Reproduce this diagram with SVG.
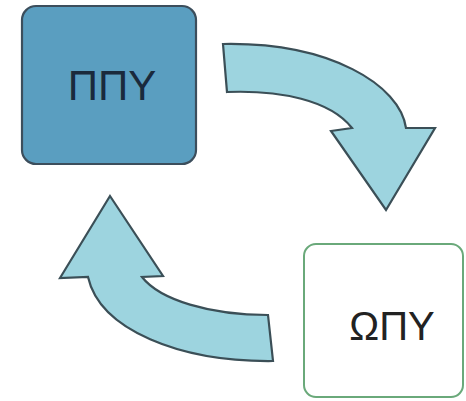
<svg xmlns="http://www.w3.org/2000/svg" width="466" height="401" viewBox="0 0 466 401">
<style>
.arrow{fill:#9dd4df;stroke:#3b4f57;stroke-width:2.2;stroke-linejoin:miter}
.lbl{font-family:"Liberation Sans",Arial,sans-serif;text-anchor:middle}
</style>
<rect width="466" height="401" fill="#ffffff"/>
<g id="connectors">
<path class="arrow" d="M223,44 C330,42 400,85 406,128 L435,128 L386,210 L331,131 L352,128 C330,100 280,90 227,92 Z"/>
<path class="arrow" d="M110,196 L163,276 L142,277 C160,300 210,315 268,315 L273,361 C180,362 100,330 88,277 L60,278 Z"/>
</g>
<g id="node-ppy">
<rect x="22" y="6" width="174" height="158" rx="14" fill="#5a9ec0" stroke="#3c4e5c" stroke-width="2.2"/>
<text class="lbl" x="112" y="100" font-size="42" fill="#1a2a3c">ΠΠΥ</text>
</g>
<g id="node-opy">
<rect x="304" y="244" width="159" height="153" rx="12" fill="#ffffff" stroke="#6aa97a" stroke-width="2"/>
<text class="lbl" x="392" y="340" font-size="40" fill="#222222">ΩΠΥ</text>
</g>
</svg>
